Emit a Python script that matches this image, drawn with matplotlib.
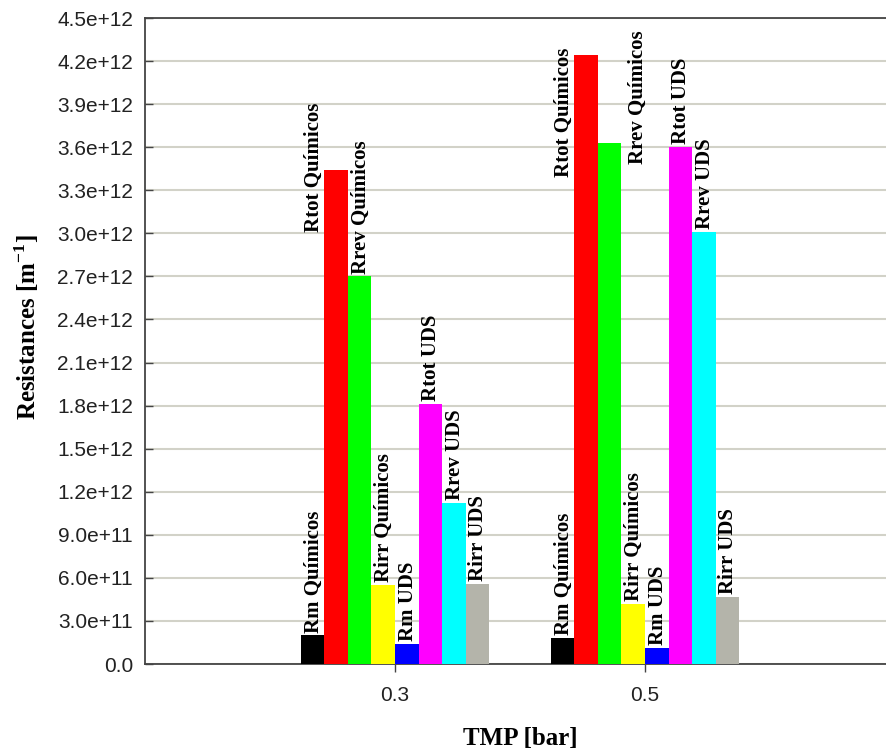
import numpy as np
import matplotlib
matplotlib.use("Agg")
import matplotlib.pyplot as plt
from matplotlib.ticker import FuncFormatter

# Datos (resistencias en m^-1)
tmp = [0.3, 0.5]
series = ["Rm Químicos", "Rtot Químicos", "Rrev Químicos", "Rirr Químicos",
          "Rm UDS", "Rtot UDS", "Rrev UDS", "Rirr UDS"]
valores_03 = [2.0e11, 3.44e12, 2.70e12, 5.5e11, 1.4e11, 1.81e12, 1.12e12, 5.6e11]
valores_05 = [1.8e11, 4.24e12, 3.63e12, 4.2e11, 1.1e11, 3.60e12, 3.01e12, 4.7e11]
colores = ["#000000", "#ff0000", "#00ff00", "#ffff00",
           "#0000ff", "#ff00ff", "#00ffff", "#b4b4aa"]
y_ticks = np.arange(0, 4.51e12, 3e11)

# Etiquetas movidas a mano en el original: (grupo, serie) -> (desplazamiento en barras, y)
etiquetas_movidas = {
    (0, 1): (-1, 3.01e12),
    (1, 1): (-1, 3.39e12),
    (1, 2): (1.15, 3.48e12),
}

plt.rcParams['mathtext.fontset'] = 'custom'
plt.rcParams['mathtext.rm'] = 'Liberation Serif:bold'
plt.rcParams['mathtext.bf'] = 'Liberation Serif:bold'

fig = plt.figure(figsize=(8.86, 7.53), dpi=100)
# el eje derecho queda fuera de la imagen, como en el original recortado
ax = fig.add_axes([145 / 886, 89 / 753, 750 / 886, 646 / 753])

ancho = 0.01885
n = len(series)
datos = [valores_03, valores_05]

for g, x0 in enumerate(tmp):
    for i in range(n):
        x = x0 + (i - (n - 1) / 2) * ancho
        v = datos[g][i]
        ax.bar(x, v, width=ancho, color=colores[i], linewidth=0, zorder=3)
        if (g, i) in etiquetas_movidas:
            shift, y = etiquetas_movidas[(g, i)]
            ax.text(x + shift * ancho + 0.0008, y, series[i], rotation=90,
                    ha='center', va='bottom', family='Liberation Serif',
                    weight='bold', fontsize=15, zorder=4)
        else:
            ax.annotate(series[i], (x + 0.0008, v), xytext=(0, 2),
                        textcoords='offset points', rotation=90,
                        ha='center', va='bottom', family='Liberation Serif',
                        weight='bold', fontsize=15, zorder=4)

ax.set_xlim(0.1, 0.7)
ax.set_ylim(0, 4.5e12)
ax.set_xticks(tmp)
ax.set_xticklabels([str(t) for t in tmp])
ax.set_yticks(y_ticks)


def fmt(v, pos):
    if v == 0:
        return "0.0"
    return f"{v:.1e}"


ax.yaxis.set_major_formatter(FuncFormatter(fmt))

ax.yaxis.grid(True, color='#d2d2c8', linewidth=1.5, zorder=0)
ax.set_axisbelow(True)

for s in ['left', 'bottom', 'top']:
    ax.spines[s].set_color('#444444')
    ax.spines[s].set_linewidth(1.3)
ax.spines['right'].set_visible(False)

ax.tick_params(axis='y', direction='in', length=5.8, width=1.0, color='#444444',
               pad=8.6, labelsize=15, labelcolor='#222222')
ax.tick_params(axis='x', direction='out', length=5.8, width=1.0, color='#444444',
               pad=10, labelsize=15, labelcolor='#222222')
for lab in ax.get_xticklabels() + ax.get_yticklabels():
    lab.set_family('Liberation Sans')

ax.set_xlabel("TMP [bar]", family='Liberation Serif', weight='bold', fontsize=18)
ax.xaxis.set_label_coords(0.5, -(727 - 664) / 646)
ax.set_ylabel("Resistances [m$^{-1}$]", family='Liberation Serif', weight='bold',
              fontsize=18, va='center')
ax.yaxis.set_label_coords((27 - 145) / 750, (664 - 327) / 646)

fig.savefig("out.png", dpi=100)
